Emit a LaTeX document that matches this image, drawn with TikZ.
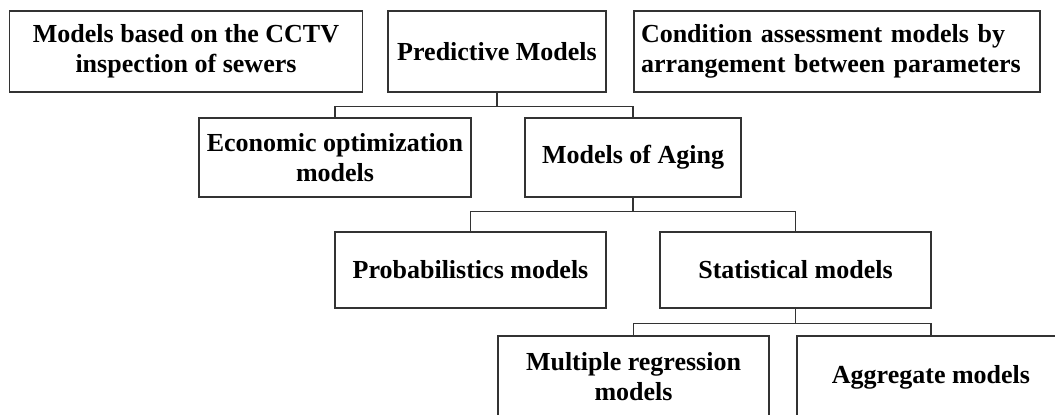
\documentclass[tikz,border=0pt]{standalone}
\usepackage{fontspec}
\setmainfont{Liberation Serif}
\begin{document}
\begin{tikzpicture}[x=1pt,y=-1pt]
                \tikzset{modelbox/.style={draw=black!80, line width=1.3pt, fill=white, inner sep=0pt,
                        align=center, font=\fontsize{26}{30}\selectfont\bfseries},
                    link/.style={draw=black!80, line width=1.6pt}}
                \clip (0,0) rectangle (1055,415);
                \node[modelbox, minimum width=353pt, minimum height=81pt] (cctv) at (186,51.5) {Models based on the CCTV\\inspection of sewers};
                \node[modelbox, minimum width=218pt, minimum height=81pt] (pred) at (497,51.5) {Predictive Models};
                \node[modelbox, align=left, text width=392pt, inner xsep=7pt, minimum height=81pt] (cond) at (837,51.5) {Condition assessment models by\\arrangement between parameters};
                \node[modelbox, minimum width=272pt, minimum height=79pt] (econ) at (335,157.5) {Economic optimization\\models};
                \node[modelbox, minimum width=216pt, minimum height=79pt] (aging) at (633,157.5) {Models of Aging};
                \node[modelbox, minimum width=271pt, minimum height=76pt] (prob) at (470.5,270) {Probabilistics models};
                \node[modelbox, minimum width=271pt, minimum height=76pt] (stat) at (795.5,270) {Statistical models};
                \node[modelbox, minimum width=271pt, minimum height=82pt] (multi) at (633.5,377) {Multiple regression\\models};
                \node[modelbox, minimum width=268pt, minimum height=82pt] (aggr) at (931,377) {Aggregate models};
                \draw[link] (pred.south) -- ++(0,14) -| (econ.north);
                \draw[link] (pred.south) -- ++(0,14) -| (aging.north);
                \draw[link] (aging.south) -- ++(0,14) -| (prob.north);
                \draw[link] (aging.south) -- ++(0,14) -| (stat.north);
                \draw[link] (stat.south) -- ++(0,15) -| (multi.north);
                \draw[link] (stat.south) -- ++(0,15) -| (aggr.north);
            \end{tikzpicture}
\end{document}
